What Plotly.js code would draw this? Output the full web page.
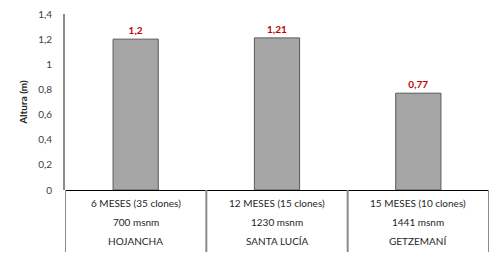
<!DOCTYPE html>
<html>
<head>
<meta charset="utf-8">
<script src="https://cdn.plot.ly/plotly-3.0.1.min.js"></script>
<style>html,body{margin:0;padding:0;background:#fff;}#chart{width:503px;height:268px;}</style>
</head>
<body>
<div id="chart"></div>
<script>
const sites = ['HOJANCHA', 'SANTA LUCÍA', 'GETZEMANÍ'];
const periods = ['6 MESES (35 clones)', '12 MESES (15 clones)', '15 MESES (10 clones)'];
const altitudes = ['700 msnm', '1230 msnm', '1441 msnm'];
const heights = [1.2, 1.21, 0.77];

const FONT = 'Lato, "Liberation Sans", sans-serif';
const labelText = heights.map(v => String(v).replace('.', ','));

const trace = {
  type: 'bar',
  x: sites,
  y: heights,
  width: 0.32,
  marker: {color: '#a6a6a6', line: {color: '#595959', width: 1}},
  text: labelText,
  textposition: 'outside',
  textfont: {family: FONT, size: 10, color: '#c00000', weight: 'bold'},
  cliponaxis: false,
  hoverinfo: 'none'
};

const plotH = 176;
const rowY = [203, 222, 241].map(py => -(py - 190) / plotH);
const annotations = [];
sites.forEach((s, i) => {
  [periods[i], altitudes[i], sites[i]].forEach((t, r) => {
    annotations.push({x: s, xref: 'x', y: rowY[r], yref: 'paper', text: t, showarrow: false,
      font: {family: FONT, size: 10, color: '#262626'}, yanchor: 'middle'});
  });
});

const sepBottom = -(252 - 190) / plotH;
const shapes = [];
for (let k = 0; k <= sites.length; k++) {
  shapes.push({type: 'line', xref: 'x', yref: 'paper', x0: k - 0.5, x1: k - 0.5, y0: 0, y1: sepBottom, line: {color: '#8c8c8c', width: 2}});
}

const layout = {
  width: 503, height: 268,
  margin: {l: 65, r: 14, t: 14, b: 78},
  paper_bgcolor: '#fff', plot_bgcolor: '#fff',
  separators: ',.',
  showlegend: false,
  font: {family: FONT, color: '#404040'},
  xaxis: {
    type: 'category', range: [-0.5, 2.5], showticklabels: false, ticks: '',
    showgrid: false, zeroline: false, showline: false, fixedrange: true
  },
  yaxis: {
    range: [0, 1.4], dtick: 0.2, tick0: 0, showgrid: false, zeroline: true,
    zerolinecolor: '#000', zerolinewidth: 1,
    showline: true, linecolor: '#8c8c8c', linewidth: 2,
    ticks: '', ticklabelstandoff: 9,
    tickfont: {family: FONT, size: 10, color: '#404040'},
    title: {text: 'Altura (m)', font: {family: FONT, size: 10, color: '#262626', weight: 'bold'}, standoff: 9}
  },
  annotations: annotations,
  shapes: shapes
};

Plotly.newPlot('chart', [trace], layout, {displayModeBar: false, staticPlot: true});
</script>
</body>
</html>
